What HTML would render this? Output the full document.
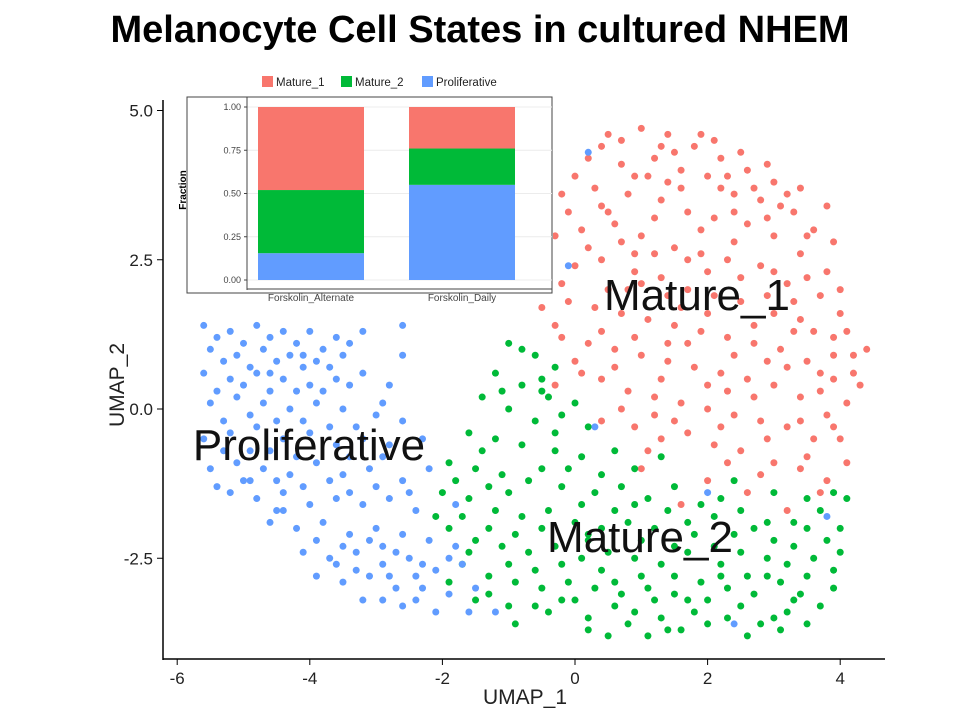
<!DOCTYPE html>
<html><head><meta charset="utf-8"><style>
body{margin:0;background:#fff;}
svg text{font-family:"Liberation Sans",Arial,sans-serif;}
</style></head><body>
<svg id="chart" width="960" height="720" xmlns="http://www.w3.org/2000/svg">
<text x="480" y="42" text-anchor="middle" font-size="38" font-weight="bold">Melanocyte Cell States in cultured NHEM</text>
<g id="points"></g>
<g id="axes"></g>
<text x="525" y="704" text-anchor="middle" font-size="21" fill="#222">UMAP_1</text>
<text transform="translate(124,385) rotate(-90)" text-anchor="middle" font-size="21" fill="#222">UMAP_2</text>
<g id="inset"></g>
<text x="697" y="310" text-anchor="middle" font-size="44" fill="#111">Mature_1</text>
<text x="309" y="460" text-anchor="middle" font-size="44" fill="#111">Proliferative</text>
<text x="640" y="552" text-anchor="middle" font-size="44" fill="#111">Mature_2</text>
</svg>
<script>
const xTicks=[-6,-4,-2,0,2,4];
const yTicks=[-2.5,0.0,2.5,5.0];
const mature1="0.5,4.6 1.0,4.7 1.4,4.6 1.8,4.4 2.2,4.2 2.6,4.0 3.0,3.8 0.2,4.2 0.7,4.1 1.2,4.2 1.6,4.0 2.0,3.9 2.4,3.6 2.8,3.5 3.3,3.3 3.6,3.0 -0.2,3.6 0.3,3.7 0.8,3.6 1.3,3.5 1.7,3.3 2.1,3.2 2.6,3.1 3.0,2.9 3.4,2.6 3.8,2.3 -0.3,2.9 0.1,3.0 0.6,3.1 1.0,2.9 1.5,2.7 1.9,2.6 2.3,2.5 2.8,2.4 3.2,2.1 3.7,1.9 4.0,1.6 -0.4,2.3 0.0,2.4 0.4,2.5 0.9,2.3 1.3,2.2 1.7,2.0 2.1,1.9 2.5,1.8 3.0,1.6 3.4,1.5 3.9,1.2 4.2,0.9 -0.5,1.7 -0.1,1.8 0.3,1.7 0.7,1.6 1.1,1.5 1.5,1.4 1.9,1.3 2.3,1.2 2.7,1.1 3.1,1.0 3.5,0.8 3.9,0.5 4.1,0.1 -0.2,1.2 0.2,1.1 0.6,1.0 1.0,0.9 1.4,0.8 1.8,0.7 2.2,0.6 2.6,0.5 3.0,0.4 3.4,0.2 3.8,-0.1 4.0,-0.5 0.4,0.5 0.8,0.3 1.2,0.2 1.6,0.1 2.0,0.0 2.4,-0.1 2.8,-0.2 3.2,-0.3 3.6,-0.5 0.9,-0.3 1.3,-0.5 1.7,-0.4 2.1,-0.6 2.5,-0.7 3.0,-0.9 3.4,-1.0 3.8,-1.2 2.0,-1.2 2.6,-1.4 3.2,-1.7 0.5,3.3 1.1,3.9 1.9,4.6 2.9,4.1 3.4,3.7 1.6,3.7 2.4,2.8 0.8,2.0 1.6,1.7 2.7,1.4 3.6,1.3 0.1,0.6 1.2,-0.1 2.3,0.3 3.7,0.3 4.3,0.4 -0.3,0.4 0.4,-0.2 1.0,-1.0 1.6,-1.6 0.4,4.4 1.5,4.3 2.3,3.9 3.1,3.4 0.9,2.6 2.0,2.3 3.3,1.8 1.4,1.1 2.9,0.8 3.9,0.9 0.7,4.5 1.3,4.4 2.1,4.5 2.5,4.3 0.0,3.9 0.9,3.9 1.4,3.8 2.2,3.7 2.7,3.7 3.2,3.6 3.8,3.4 -0.1,3.3 0.4,3.4 1.2,3.2 1.9,3.0 2.4,3.3 2.9,3.2 3.5,2.9 3.9,2.8 -0.4,2.6 0.2,2.7 0.7,2.8 1.2,2.6 1.7,2.5 2.5,2.2 3.0,2.3 3.5,2.2 4.0,2.0 -0.2,2.1 0.5,2.0 1.0,2.1 1.4,1.9 2.0,1.6 2.9,1.9 3.3,1.3 4.1,1.3 4.4,1.0 -0.3,1.4 0.4,1.3 0.9,1.2 1.7,1.1 2.4,0.9 3.2,0.7 3.7,0.6 4.2,0.6 0.0,0.8 0.6,0.7 1.3,0.5 2.0,0.4 2.7,0.2 3.4,-0.2 3.9,-0.3 0.7,0.0 1.5,-0.2 2.2,-0.3 2.9,-0.5 3.5,-0.8 4.1,-0.9 1.1,-0.7 2.3,-0.9 2.8,-1.1 3.7,-1.4";
const mature2="-1.0,1.1 -0.6,0.9 -0.3,0.7 -1.2,0.6 -0.8,0.4 -0.4,0.2 -1.4,0.2 -1.0,0.0 -0.6,-0.2 -0.2,-0.1 0.2,-0.3 -1.6,-0.4 -1.2,-0.5 -0.8,-0.6 -0.3,-0.7 0.1,-0.8 0.6,-0.7 -1.9,-0.9 -1.5,-1.0 -1.1,-1.1 -0.7,-1.2 -0.2,-1.3 0.3,-1.4 0.7,-1.3 1.1,-1.5 1.5,-1.3 -2.0,-1.4 -1.6,-1.5 -1.2,-1.7 -0.8,-1.8 -0.4,-1.7 0.0,-1.9 0.4,-2.0 0.8,-1.9 1.2,-2.0 1.7,-1.9 2.1,-1.8 2.5,-1.7 2.9,-1.9 3.3,-1.9 3.7,-1.7 4.1,-1.5 -1.9,-2.0 -1.5,-2.2 -1.1,-2.3 -0.7,-2.4 -0.3,-2.3 0.1,-2.5 0.5,-2.4 0.9,-2.5 1.3,-2.6 1.7,-2.4 2.1,-2.3 2.5,-2.4 2.9,-2.5 3.3,-2.3 3.8,-2.2 -1.7,-2.6 -1.3,-2.8 -0.9,-2.9 -0.5,-3.0 -0.1,-2.9 0.3,-3.0 0.7,-3.1 1.1,-3.0 1.5,-3.1 1.9,-2.9 2.3,-3.0 2.7,-3.1 3.1,-2.9 3.5,-2.8 3.9,-2.7 -1.5,-3.2 -1.0,-3.3 -0.4,-3.4 0.2,-3.5 0.8,-3.6 1.3,-3.5 1.8,-3.4 2.3,-3.5 2.8,-3.6 3.2,-3.4 3.7,-3.3 0.5,-3.8 1.1,-3.8 1.6,-3.7 2.6,-3.8 3.1,-3.7 -0.9,-3.6 -1.9,-2.9 -2.1,-1.8 -0.1,-1.0 -0.5,0.5 0.0,0.1 1.3,-0.8 2.4,-1.2 3.0,-1.4 3.5,-1.5 4.0,-2.0 0.6,-1.7 1.8,-2.1 3.0,-2.2 -0.6,-2.7 2.0,-3.2 0.4,-2.7 1.0,-2.8 2.6,-2.8 -1.3,-1.3 -0.9,-2.1 0.2,-2.2 1.5,-2.8 2.2,-2.6 3.4,-3.1 -0.2,-3.2 1.9,-1.6 -0.8,1.0 -0.5,0.3 -1.1,0.3 -0.3,-0.4 -1.4,-0.7 -0.5,-1.0 0.4,-1.1 0.9,-1.0 -1.8,-1.2 -1.0,-1.4 0.1,-1.6 0.9,-1.6 1.4,-1.7 2.2,-1.5 2.7,-2.0 3.5,-2.0 3.9,-1.4 -1.7,-1.8 -1.3,-2.0 -0.5,-2.0 0.2,-2.1 1.0,-2.2 1.5,-2.3 2.4,-2.1 3.2,-2.6 3.6,-2.5 4.0,-2.4 -1.6,-2.4 -1.0,-2.6 -0.2,-2.6 0.6,-2.9 1.2,-3.2 1.7,-3.2 2.2,-2.8 2.9,-2.8 3.3,-3.2 3.9,-3.0 -1.3,-3.1 -0.6,-3.3 0.0,-3.2 0.6,-3.3 1.4,-3.7 2.0,-3.6 2.5,-3.3 3.0,-3.5 3.5,-3.6 0.2,-3.7 0.9,-3.4";
const prolif="-5.6,1.4 -5.2,1.3 -4.8,1.4 -4.4,1.3 -4.0,1.3 -3.6,1.2 -3.2,1.3 -2.6,1.4 -5.5,1.0 -5.1,0.9 -4.7,1.0 -4.3,0.9 -3.9,0.8 -3.5,0.9 -2.6,0.9 -5.6,0.6 -5.2,0.5 -4.8,0.6 -4.4,0.5 -4.0,0.4 -3.6,0.5 -3.2,0.6 -2.8,0.4 -5.5,0.1 -5.1,0.2 -4.7,0.1 -4.3,0.0 -3.9,0.1 -3.5,0.0 -3.0,-0.1 -2.6,-0.2 -5.6,-0.5 -5.2,-0.4 -4.8,-0.3 -4.4,-0.5 -4.0,-0.4 -3.6,-0.6 -3.2,-0.5 -2.8,-0.6 -2.3,-0.5 -5.5,-1.0 -5.1,-0.9 -4.7,-1.0 -4.3,-1.1 -3.9,-0.9 -3.5,-1.1 -3.1,-1.0 -2.6,-1.2 -2.2,-1.0 -5.2,-1.4 -4.8,-1.5 -4.4,-1.4 -4.0,-1.6 -3.6,-1.5 -3.2,-1.6 -2.8,-1.5 -2.4,-1.7 -1.8,-1.6 -4.6,-1.9 -4.2,-2.0 -3.8,-1.9 -3.4,-2.1 -3.0,-2.0 -2.6,-2.1 -2.2,-2.2 -1.8,-2.3 -4.1,-2.4 -3.7,-2.5 -3.3,-2.4 -2.9,-2.6 -2.5,-2.5 -2.1,-2.7 -1.7,-2.6 -3.9,-2.8 -3.5,-2.9 -3.1,-2.8 -2.7,-3.0 -2.3,-3.0 -1.9,-3.1 -3.2,-3.2 -2.6,-3.3 -2.1,-3.4 -1.6,-3.4 -1.2,-3.4 -4.9,-0.7 -4.6,0.3 -3.7,-1.2 -2.9,-2.3 -4.5,-1.7 -5.0,-1.2 -3.3,-0.3 -4.1,0.7 0.2,4.3 -0.1,2.4 2.0,-1.4 3.8,-1.8 2.4,-3.6 0.3,-0.3 -5.4,1.2 -5.0,1.1 -4.6,1.2 -4.2,1.1 -3.8,1.0 -3.4,1.1 -5.3,0.8 -4.9,0.7 -4.5,0.8 -4.1,0.9 -3.7,0.7 -5.4,0.3 -5.0,0.4 -4.6,0.6 -4.2,0.3 -3.8,0.3 -3.4,0.4 -5.3,-0.2 -4.9,-0.1 -4.5,-0.2 -4.1,-0.2 -3.7,-0.3 -2.9,0.1 -5.3,-0.7 -4.6,-0.7 -4.2,-0.8 -3.4,-0.8 -2.9,-0.8 -5.4,-1.3 -4.9,-1.2 -4.5,-1.2 -4.1,-1.3 -3.4,-1.4 -3.0,-1.3 -2.5,-1.4 -4.4,-1.7 -3.9,-2.2 -3.5,-2.3 -3.1,-2.2 -2.7,-2.4 -2.3,-2.6 -1.9,-2.5 -3.6,-2.6 -3.3,-2.7 -2.8,-2.8 -2.4,-2.8 -1.5,-3.0 -2.9,-3.2 -2.4,-3.2";
const barCats=["Forskolin_Alternate","Forskolin_Daily"];
const fracProlif=[0.155,0.55];
const fracMature2=[0.365,0.21];
const fracMature1=[0.48,0.24];
const insetTicks=[0,0.25,0.5,0.75,1.0];

const NS="http://www.w3.org/2000/svg";
function mk(t,a,p){const e=document.createElementNS(NS,t);for(const k in a)e.setAttribute(k,a[k]);p.appendChild(e);return e;}
const sx=v=>575+v*66.3, sy=v=>409-v*59.7;
const pg=document.getElementById('points');
function plot(str,col,name){
  str.trim().split(/\s+/).forEach(s=>{const [x,y]=s.split(',').map(Number);
    const c=mk('circle',{cx:sx(x),cy:sy(y),r:3.5,fill:col},pg);
    
    });
}
plot(mature1,'#F8766D','point-mature-1');
plot(mature2,'#00BA38','point-mature-2');
plot(prolif,'#619CFF','point-proliferative');

const ax=document.getElementById('axes');
mk('line',{x1:163,y1:100,x2:163,y2:660,stroke:'#000','stroke-width':1.5},ax);
mk('line',{x1:163,y1:659,x2:885,y2:659,stroke:'#000','stroke-width':1.5},ax);
xTicks.forEach(v=>{mk('line',{x1:sx(v),y1:659,x2:sx(v),y2:665,stroke:'#000'},ax);
  const t=mk('text',{x:sx(v),y:684,'text-anchor':'middle','font-size':17,fill:'#222'},ax);t.textContent=v;
  
  });
yTicks.forEach(v=>{mk('line',{x1:157,y1:sy(v),x2:163,y2:sy(v),stroke:'#000'},ax);
  const t=mk('text',{x:153,y:sy(v)+6,'text-anchor':'end','font-size':17,fill:'#222'},ax);t.textContent=v.toFixed(1);
  
  });

const ig=document.getElementById('inset');
mk('rect',{x:187,y:70,width:366,height:224,fill:'#fff'},ig);
mk('rect',{x:187,y:97,width:365,height:196,fill:'#fff',stroke:'#444','stroke-width':1},ig);
const iy=v=>280-v*173;
insetTicks.forEach(v=>{mk('line',{x1:247,y1:iy(v),x2:552,y2:iy(v),stroke:'#ececec'},ig);
  mk('line',{x1:244,y1:iy(v),x2:247,y2:iy(v),stroke:'#444'},ig);
  const t=mk('text',{x:241,y:iy(v)+3,'text-anchor':'end','font-size':9,fill:'#444'},ig);t.textContent=v.toFixed(2);
  
  });
mk('line',{x1:247,y1:97,x2:247,y2:290,stroke:'#444'},ig);
mk('line',{x1:247,y1:289,x2:552,y2:289,stroke:'#444'},ig);
const ft=mk('text',{transform:'translate(186,190) rotate(-90)','text-anchor':'middle','font-size':10,'font-weight':'bold'},ig);ft.textContent='Fraction';
const bx=[311,462];
barCats.forEach((c,i)=>{
  let base=0;
  [[fracProlif[i],'#619CFF','bar-proliferative'],[fracMature2[i],'#00BA38','bar-mature-2'],[fracMature1[i],'#F8766D','bar-mature-1']].forEach(([v,col,n])=>{
    const r=mk('rect',{x:bx[i]-53,y:iy(base+v),width:106,height:iy(base)-iy(base+v),fill:col},ig);
    
    
    base+=v;});
  const t=mk('text',{x:bx[i],y:301,'text-anchor':'middle','font-size':10,fill:'#444'},ig);t.textContent=c;
  
  
});
[['Mature_1','#F8766D',262],['Mature_2','#00BA38',341],['Proliferative','#619CFF',422]].forEach(([n,col,x])=>{
  const r=mk('rect',{x:x,y:76,width:11,height:11,fill:col},ig);
  
  
  const t=mk('text',{x:x+14,y:86,'font-size':11.5,fill:'#222'},ig);t.textContent=n;
  
  
});
</script>
</body></html>
